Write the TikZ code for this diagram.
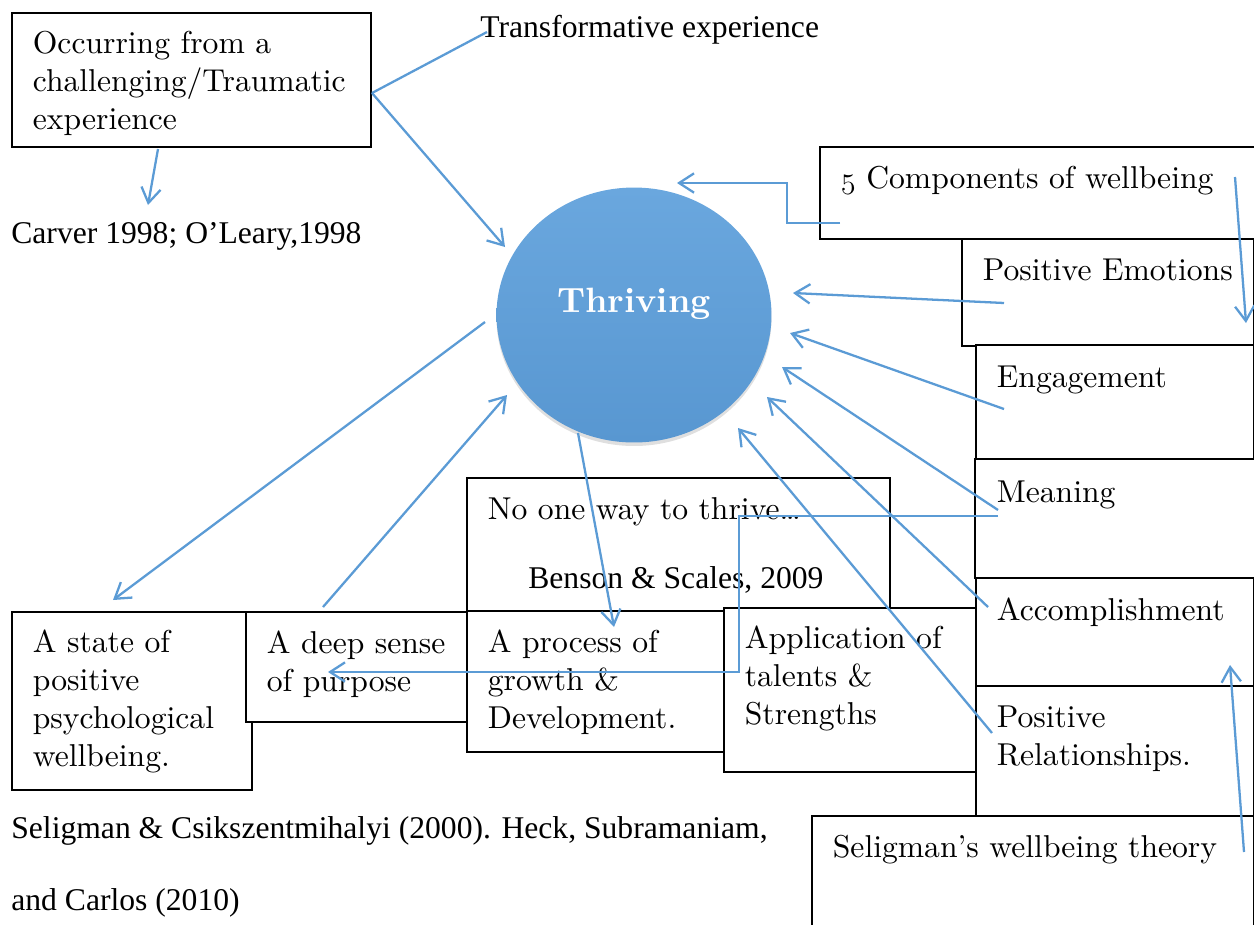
\documentclass[tikz,border=0pt]{standalone}
\usepackage{fontspec}
\setmainfont{lmroman10-regular.otf}[BoldFont=lmroman10-bold.otf]
\newfontfamily\timesfont{Liberation Serif}
\usetikzlibrary{arrows.meta,shapes.geometric,shadows}

\definecolor{linkblue}{RGB}{91,155,213}
\definecolor{balltop}{RGB}{106,167,222}
\definecolor{ballbottom}{RGB}{88,151,209}
\hyphenpenalty=10000
\newcommand\oldfive{{\usefont{OML}{lmm}{m}{it}5}}

\tikzset{
  box/.style={draw, fill=white, line width=1pt, inner xsep=0.42cm, inner ysep=0pt,
    anchor=base west, align=left, font=\fontsize{18}{21.8}\selectfont},
  reftext/.style={anchor=base west, inner sep=0pt,
    font=\timesfont\fontsize{18}{21.8}\selectfont},
  link/.style={draw=linkblue, line width=1.3pt},
}

\begin{document}
\begin{tikzpicture}[x=0.02cm, y=-0.02cm, >={Straight Barb[length=8.5pt,width=11pt]}]

    %% Page
    \useasboundingbox (0,0) rectangle (1254,924);
    \clip (0,0) rectangle (1254,924);

    % Central idea
    \node[ellipse, minimum width=5.5cm, minimum height=5.1cm,
      top color=balltop, bottom color=ballbottom,
      drop shadow={opacity=0.25, shadow xshift=0pt, shadow yshift=-2pt},
      text=white, font=\fontsize{20}{24}\selectfont\bfseries,
      text height=14pt, text depth=17.4pt] (thr) at (634,315) {Thriving};

    % Left side
    \node[box, text width=6.34cm, text height=0.80cm, text depth=1.88cm] (occ) at (11,53)
      {Occurring from a\\challenging/Traumatic\\experience};
    \node[reftext] (trans) at (480,37) {Transformative experience};
    \node[reftext] (carver) at (11,243) {Carver 1998; O’Leary,1998};

    % Bottom row
    \node[box, text width=3.96cm, text height=0.80cm, text depth=2.76cm] (state) at (11,652)
      {A state of\\positive\\psychological\\wellbeing.};
    \node[box, text width=3.58cm, text height=0.82cm, text depth=1.38cm] (deep) at (245,653)
      {A~deep~sense\\of purpose};
    \node[box, text width=7.62cm, text height=0.82cm, text depth=1.84cm] (way) at (466,519)
      {No one way to thrive…};
    \node[reftext] (benson) at (528,588) {Benson \& Scales, 2009};
    \node[box, text width=4.30cm, text height=0.82cm, text depth=2.00cm] (proc) at (466,652)
      {A process of\\growth \&\\Development.};
    \node[box, text width=4.20cm, text height=0.80cm, text depth=2.48cm] (app) at (723,648)
      {Application~of\\talents \&\\Strengths};
    \node[reftext] (selcite) at (11,838) {Seligman \& Csikszentmihalyi (2000). Heck, Subramaniam,};
    \node[reftext] (selcite2) at (11,910) {and Carlos (2010)};

    % Wellbeing column
    \node[box, text width=8.02cm, text height=0.82cm, text depth=1.02cm] (comp) at (819,188)
      {\oldfive\ Components of wellbeing};
    \node[box, text width=5.00cm, text height=0.82cm, text depth=1.32cm] (emo) at (961,280)
      {Positive~Emotions};
    \node[box, text width=4.72cm, text height=0.84cm, text depth=1.44cm] (eng) at (975,387)
      {Engagement};
    \node[box, draw=none, fill=none, text width=4.72cm, text height=0.86cm, text depth=1.52cm] (mean) at (975,502)
      {Meaning};
    \draw[line width=1pt] (mean.north west) -- (mean.south west);
    \node[box, text width=4.72cm, text height=0.84cm, text depth=1.32cm] (acc) at (975,620)
      {Accomplishment};
    \node[box, text width=4.72cm, text height=0.82cm, text depth=1.78cm] (rel) at (975,727)
      {Positive\\Relationships.};
    \node[box, text width=8.00cm, text height=0.82cm, text depth=1.66cm] (theory) at (811,857)
      {Seligman’s~wellbeing~theory};

    % Line ends
    \coordinate (occ-r) at (372,93);
    \coordinate (occ-b) at (158,149);
    \coordinate (trans-l) at (487,32);
    \coordinate (carver-t) at (148,205);
    \coordinate (thr-nw) at (505,247);
    \coordinate (thr-top) at (677,183);
    \coordinate (comp-l) at (840,223);
    \coordinate (comp-k) at (787,183);
    \coordinate (comp-r) at (1235,177);
    \coordinate (emo-r) at (1246,323);
    \coordinate (emo-l) at (1004,303);
    \coordinate (eng-l) at (1004,409);
    \coordinate (mean-l) at (998,510);
    \coordinate (mean-k) at (998,516);
    \coordinate (acc-l) at (988,607);
    \coordinate (rel-l) at (992,733);
    \coordinate (thr-e1) at (793,293);
    \coordinate (thr-e2) at (790,333);
    \coordinate (thr-e3) at (782,367);
    \coordinate (thr-e4) at (767,397);
    \coordinate (thr-e5) at (738,428);
    \coordinate (bend) at (739,672);
    \coordinate (deep-r) at (328,672);
    \coordinate (thr-w) at (485,322);
    \coordinate (state-t) at (113,600);
    \coordinate (deep-t) at (323,607);
    \coordinate (thr-sw) at (507,395);
    \coordinate (thr-s) at (578,433);
    \coordinate (proc-t) at (614,627);
    \coordinate (theory-r) at (1244,852);
    \coordinate (acc-r) at (1230,665);

    % Connectors
    \draw[link] (occ-r) -- (trans-l);
    \draw[link, ->] (occ-r) -- (thr-nw);
    \draw[link, ->] (occ-b) -- (carver-t);
    \draw[link, ->] (comp-l) -| (comp-k) -- (thr-top);
    \draw[link, ->] (comp-r) -- (emo-r);
    \draw[link, ->] (emo-l) -- (thr-e1);
    \draw[link, ->] (eng-l) -- (thr-e2);
    \draw[link, ->] (mean-l) -- (thr-e3);
    \draw[link, ->] (acc-l) -- (thr-e4);
    \draw[link, ->] (rel-l) -- (thr-e5);
    \draw[link, ->] (mean-k) -| (bend) -- (deep-r);
    \draw[link, ->] (thr-w) -- (state-t);
    \draw[link, ->] (deep-t) -- (thr-sw);
    \draw[link, ->] (thr-s) -- (proc-t);
    \draw[link, ->] (theory-r) -- (acc-r);

\end{tikzpicture}
\end{document}
